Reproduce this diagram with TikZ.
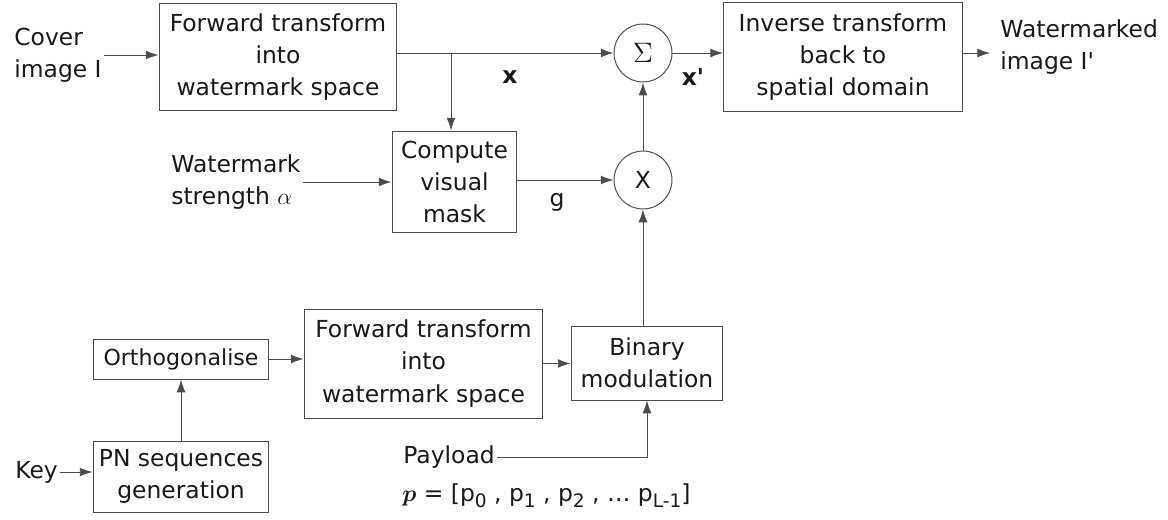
\documentclass[tikz,border=0pt]{standalone}
\usepackage{amsmath}
\usepackage{bm}
\usepackage{fontspec}
\setmainfont{DejaVu Sans}
\usetikzlibrary{positioning, arrows.meta, shapes.geometric}

% pedice in stile testo, un po' piu' grande e piu' basso
\newcommand{\psub}[1]{\raisebox{-0.45ex}{\fontsize{9.5}{10}\selectfont #1}}

\begin{document}
\begin{tikzpicture}[>={Latex[length=2.3mm,width=1.6mm]}, x=0.018cm, y=-0.018cm] % coordinate in pixel
    % Stili per blocchi, nodi somma/prodotto e testi
    \tikzset{
        block/.style={
            draw=black!70,
            line width=0.5pt,
            align=center,
            inner sep=0pt,
            text=black!90,
            font=\fontsize{12}{16.5}\selectfont
        },
        junction/.style={
            circle,
            draw=black!70,
            line width=0.5pt,
            minimum size=1.044cm,
            inner sep=0pt,
            text=black!90,
            font=\fontsize{14}{16}\selectfont
        },
        txt/.style={
            align=left,
            inner sep=1pt,
            text=black!90,
            font=\fontsize{12}{16.5}\selectfont
        },
        wire/.style={draw=black!70, line width=0.5pt}
    }

    % Margini della figura
    \useasboundingbox (0,0) rectangle (1168,519);

    % --- Ramo superiore: trasformata, somma, antitrasformata ---
    \node[txt, anchor=west] (cover) at (12,55) {Cover\\image $\mathrm{I}$};
    \node[block, minimum width=4.284cm, minimum height=1.944cm] (fwdA) at (278,57)
        {Forward transform\\into\\watermark space};
    \node[junction] (sum) at (643,53) {$\Sigma$};
    \node[block, minimum width=4.3cm, minimum height=1.962cm] (inv) at (843,57)
        {Inverse transform\\back to\\spatial domain};
    \node[txt, anchor=west] (wmimg) at (998,47) {Watermarked\\image $\mathrm{I}$\textquotesingle};

    \node[txt] (xlab) at (510,77) {\textbf{x}};
    \node[txt] (xplab) at (693,77) {\textbf{x\textquotesingle}};

    % --- Maschera visuale e prodotto ---
    \node[txt, anchor=west] (wstr) at (169,182) {Watermark\\strength $\alpha$};
    \node[block, minimum width=2.25cm, minimum height=1.836cm] (mask) at (454.5,182)
        {Compute\\visual\\mask};
    \node[junction, font=\fontsize{12}{14}\selectfont] (mul) at (643,180) {X};
    \node[txt] (glab) at (557,202) {g};
    \coordinate (branch) at (451,53);

    % --- Ramo inferiore: sequenze PN e modulazione ---
    \node[block, minimum width=2.736cm, minimum height=1.332cm] (bmod) at (647,363)
        {Binary\\modulation};
    \node[block, minimum width=4.3cm, minimum height=1.962cm] (fwdB) at (423.5,363.5)
        {Forward transform\\into\\watermark space};
    \node[block, minimum width=3.168cm, minimum height=0.72cm,
          font=\fontsize{11.3}{13}\selectfont] (orth) at (181,359) {Orthogonalise};
    \node[block, minimum width=3.168cm, minimum height=1.278cm] (pn) at (181,476.5)
        {PN sequences\\generation};
    \node[txt, anchor=west] (key) at (13,472) {Key};
    \node[txt, anchor=west] (payload) at (401,457) {Payload};
    \node[txt, anchor=west] (pvec) at (400,496)
        {$\bm{p}$ = [p\psub{0} , p\psub{1} , p\psub{2} , \dots\ p\psub{L-1}]};

    % Collegamenti
    \draw[wire, ->] (cover.east) -- (cover.east -| fwdA.west);
    \draw[wire, ->] (fwdA.east |- sum) -- (sum);
    \draw[wire, ->] (branch) -- (branch |- mask.north);
    \draw[wire, ->] (sum) -- (sum -| inv.west);
    \draw[wire, ->, shorten >=4pt] (inv.east |- sum) -- (wmimg.west |- sum);
    \draw[wire, ->] (wstr.east) -- (wstr.east -| mask.west);
    \draw[wire, ->] (mask.east |- mul) -- (mul);
    \draw[wire, ->] (mul) -- (sum);
    \draw[wire, ->] (mul |- bmod.north) -- (mul);
    \draw[wire, ->] (fwdB.east) -- (fwdB.east -| bmod.west);
    \draw[wire, ->] (orth) -- (orth -| fwdB.west);
    \draw[wire, ->] (pn) -- (orth);
    \draw[wire, ->] (key.east) -- (key.east -| pn.west);
    \draw[wire, ->] (payload.east) -| (bmod.south);

\end{tikzpicture}
\end{document}
